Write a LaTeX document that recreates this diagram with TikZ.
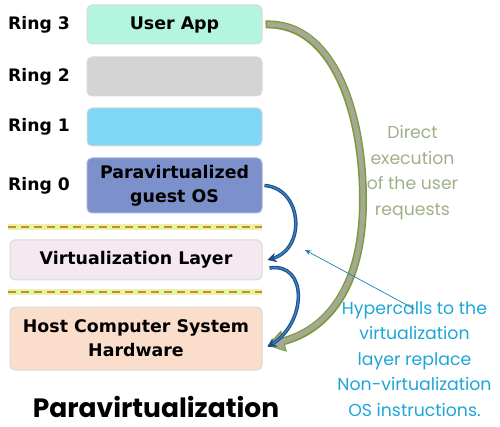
\documentclass[tikz,border=0pt]{standalone}
\usepackage{fontspec}
\setmainfont{DejaVu Sans}
\newfontfamily\titlefont{Poppins}
\usetikzlibrary{arrows.meta}

\definecolor{appfill}{HTML}{B3F5DF}
\definecolor{ringtwo}{HTML}{D4D4D4}
\definecolor{ringone}{HTML}{7FD6F5}
\definecolor{guestfill}{HTML}{7C90CC}
\definecolor{virtfill}{HTML}{F6E8F0}
\definecolor{hostfill}{HTML}{FADDCB}
\definecolor{dashorange}{HTML}{C98A33}
\definecolor{dashglow}{HTML}{E9F3A6}
\definecolor{olivedge}{HTML}{7E9A35}
\definecolor{olivefill}{HTML}{A3A995}
\definecolor{darkblue}{HTML}{1B4F8C}
\definecolor{midblue}{HTML}{3C82C4}
\definecolor{notegreen}{HTML}{A0B189}
\definecolor{notecyan}{HTML}{1FA6D9}

\tikzset{
  layer/.style={rectangle,rounded corners=5pt,draw=black!15,line width=1pt,
    inner sep=0pt,align=center,font=\fontsize{17.4}{24}\selectfont\bfseries},
  ringlabel/.style={anchor=west,inner sep=0pt,font=\fontsize{17.2}{20}\selectfont\bfseries},
  divider/.style={line width=2.6pt,dashorange,dash pattern=on 8pt off 5pt},
  glow/.style={line width=6pt,dashglow},
  hypercall/.style={darkblue,double=midblue,double distance=1.3pt,line width=1.1pt,
    -{Stealth[length=9pt,width=10pt]}},
  note/.style={align=center,inner sep=0pt,font=\titlefont\fontsize{17.3}{25.6}\selectfont}
}

\begin{document}
\begin{tikzpicture}[x=1pt,y=-1pt]
  \useasboundingbox (0,0) rectangle (500,427);

  % rings
  \node[layer,fill=appfill,minimum width=175,minimum height=39] (app) at (174.5,24.5) {User App};
  \node[layer,fill=ringtwo,minimum width=175,minimum height=39] (ring2) at (174.5,76.5) {};
  \node[layer,fill=ringone,minimum width=175,minimum height=38] (ring1) at (174.5,127) {};
  \node[layer,fill=guestfill,draw=guestfill!70!white,minimum width=175,minimum height=55] (guest) at (174.5,185.5) {Paravirtualized\\guest OS};

  \node[ringlabel] (r3) at (8,24.5) {Ring 3};
  \node[ringlabel] (r2) at (8,76.5) {Ring 2};
  \node[ringlabel] (r1) at (8,127) {Ring 1};
  \node[ringlabel] (r0) at (8,186) {Ring 0};

  % layers below the guest
  \node[layer,fill=virtfill,minimum width=252,minimum height=40] (virt) at (136,260) {Virtualization Layer};
  \node[layer,fill=hostfill,minimum width=252,minimum height=63] (host) at (136,338.5) {Host Computer System\\Hardware};

  \coordinate (d1a) at (8,227);
  \coordinate (d1b) at (262,227);
  \coordinate (d2a) at (8,292);
  \coordinate (d2b) at (262,292);
  \draw[glow] (d1a) -- (d1b);
  \draw[divider] (d1a) -- (d1b);
  \draw[glow] (d2a) -- (d2b);
  \draw[divider] (d2a) -- (d2b);

  \node[font=\titlefont\fontsize{26.5}{30}\selectfont\bfseries] (title) at (156,407) {Paravirtualization};

  % direct execution
  \draw[line width=8pt,olivedge,-{Triangle[length=17pt,width=22pt,line width=1pt,fill=olivefill]}]
    ([xshift=3]app.east) .. controls (332,22) and (363,110) .. (363,200)
    .. controls (363,290) and (325,330) .. ([xshift=5,yshift=-7]host.east);
  \draw[line width=5pt,olivefill,shorten >=14pt]
    ([xshift=4.5]app.east) .. controls (332,22) and (363,110) .. (363,200)
    .. controls (363,290) and (325,330) .. ([xshift=5,yshift=-7]host.east);

  % hypercalls
  \draw[hypercall] ([xshift=2]guest.east) .. controls (302,188) and (307,248) .. ([xshift=5]virt.east);
  \draw[hypercall] ([xshift=7,yshift=-8]virt.east) .. controls (308,262) and (307,322) .. ([xshift=5,yshift=-8.5]host.east);

  \node[note,text=notegreen] (direct) at (412.5,172.5) {Direct\\execution\\of the user\\requests};
  \node[note,text=notecyan] (hyper) at (414.5,359) {Hypercalls to the\\virtualization\\layer replace\\Non-virtualization\\OS instructions.};

  \coordinate (pointer) at (305,250);
  \draw[notecyan!80!black,line width=0.7pt,-{Stealth[length=6pt,width=5pt]}] ([xshift=0,yshift=-8]hyper.north) -- (pointer);
\end{tikzpicture}
\end{document}
